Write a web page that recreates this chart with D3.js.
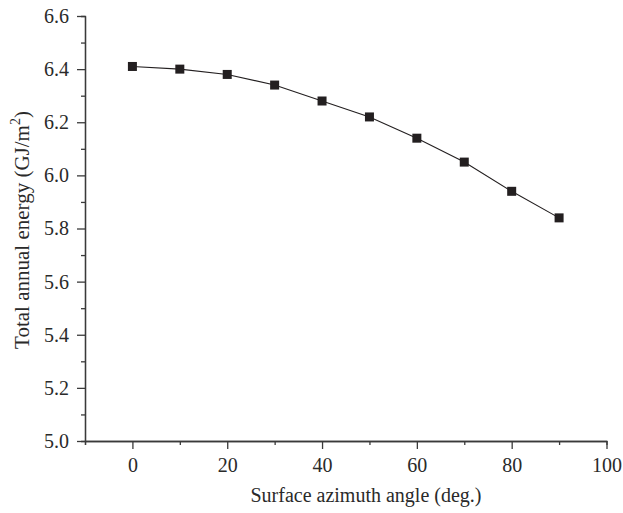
<!DOCTYPE html>
<html>
<head>
<meta charset="utf-8">
<script src="https://cdn.jsdelivr.net/npm/d3@7"></script>
<style>
  html, body { margin: 0; padding: 0; background: #fff; }
  svg { display: block; }
</style>
</head>
<body>
<div id="chart"></div>
<script>
// Data
const azimuth = [0, 10, 20, 30, 40, 50, 60, 70, 80, 90];
const energy  = [6.41, 6.40, 6.38, 6.34, 6.28, 6.22, 6.14, 6.05, 5.94, 5.84];
const xTicks  = [0, 20, 40, 60, 80, 100];
const yTicks  = [5.0, 5.2, 5.4, 5.6, 5.8, 6.0, 6.2, 6.4, 6.6];

const INK = '#231f20';
const AXIS = '#3a3a3a';
const TEXT = '#2a2a2a';
const FONT = "'Liberation Serif', 'DejaVu Serif', serif";

const W = 623, H = 513;
const margin = { top: 16, right: 17, bottom: 72, left: 85 };
const width = W - margin.left - margin.right;
const height = H - margin.top - margin.bottom;

const svg = d3.select('#chart').append('svg')
  .attr('width', W).attr('height', H);

const g = svg.append('g')
  .attr('transform', `translate(${margin.left},${margin.top})`);

const x = d3.scaleLinear().domain([-10, 100]).range([0, width + 0.5]);
const y = d3.scaleLinear().domain([5.0, 6.6]).range([height, 0]);

function styleAxis(ax) {
  ax.select('.domain').attr('stroke', AXIS).attr('stroke-width', 1.3);
  ax.selectAll('line').attr('stroke', AXIS).attr('stroke-width', 1.3);
  ax.selectAll('text')
    .style('font-family', FONT)
    .style('font-size', '20px')
    .attr('fill', TEXT);
}

// minor ticks
const xMinor = d3.range(-10, 101, 10).filter(v => !xTicks.includes(v));
const yMinor = d3.range(5.1, 6.6, 0.2);

g.append('g').attr('transform', `translate(0,${height})`)
  .call(d3.axisBottom(x).tickValues(xMinor).tickSize(4).tickFormat(''))
  .call(styleAxis);
g.append('g')
  .call(d3.axisLeft(y).tickValues(yMinor).tickSize(4).tickFormat(''))
  .call(styleAxis);

g.append('g').attr('transform', `translate(0,${height})`)
  .call(d3.axisBottom(x).tickValues(xTicks).tickSize(8).tickPadding(9).tickSizeOuter(0))
  .call(styleAxis);

g.append('g')
  .call(d3.axisLeft(y).tickValues(yTicks).tickSize(8).tickPadding(8)
    .tickFormat(d3.format('.1f')).tickSizeOuter(0))
  .call(styleAxis);

// line + markers
const pts = azimuth.map((a, i) => ({ a, e: energy[i] }));

g.append('path')
  .datum(pts)
  .attr('fill', 'none')
  .attr('stroke', INK)
  .attr('stroke-width', 1.1)
  .attr('d', d3.line().x(d => x(d.a)).y(d => y(d.e)));

const s = 9;
g.selectAll('.pt')
  .data(pts)
  .join('rect')
  .attr('class', 'pt')
  .attr('x', d => x(d.a) - s / 2)
  .attr('y', d => y(d.e) - s / 2)
  .attr('width', s)
  .attr('height', s)
  .attr('fill', INK);

// axis labels
svg.append('text')
  .attr('x', 366)
  .attr('y', 502)
  .attr('text-anchor', 'middle')
  .style('font-family', FONT)
  .style('font-size', '20px')
  .attr('fill', TEXT)
  .text('Surface azimuth angle (deg.)');

const yl = svg.append('text')
  .attr('transform', 'translate(29,230) rotate(-90)')
  .attr('text-anchor', 'middle')
  .style('font-family', FONT)
  .style('font-size', '21px')
  .attr('fill', TEXT);
yl.append('tspan').text('Total annual energy (GJ/m');
yl.append('tspan').attr('dy', -9).style('font-size', '14px').text('2');
yl.append('tspan').attr('dy', 9).text(')');
</script>
</body>
</html>
